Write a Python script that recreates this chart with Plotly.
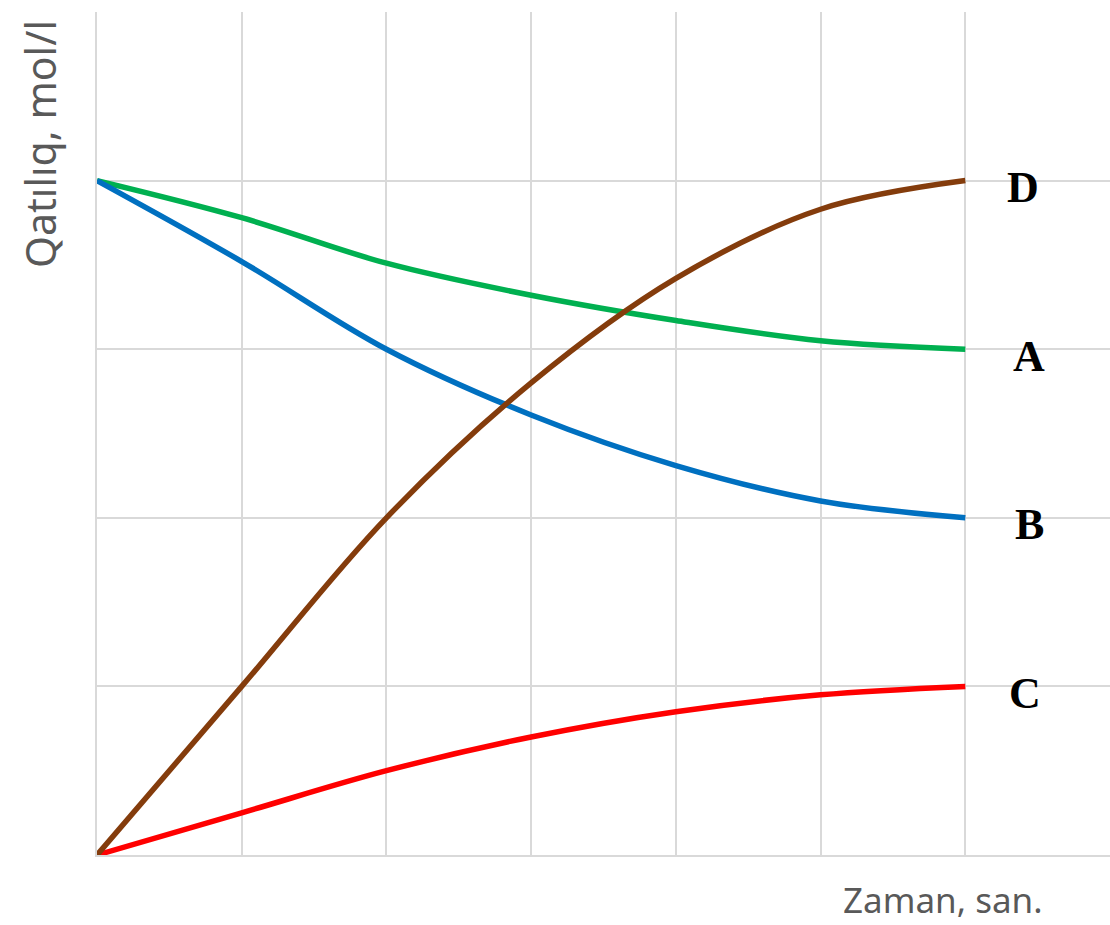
import plotly.graph_objects as go

time = [0, 1, 2, 3, 4, 5, 6]
conc_A = [4.0, 3.78, 3.51, 3.32, 3.17, 3.05, 3.0]
conc_B = [4.0, 3.52, 3.0, 2.61, 2.31, 2.1, 2.0]
conc_C = [0.0, 0.25, 0.5, 0.7, 0.85, 0.95, 1.0]
conc_D = [0.0, 1.0, 2.0, 2.8, 3.42, 3.83, 4.0]
labels = ["D", "A", "B", "C"]

series = [
    ("A", conc_A, "#00b050"),
    ("B", conc_B, "#0070c0"),
    ("C", conc_C, "#ff0000"),
    ("D", conc_D, "#843c0c"),
]

fig = go.Figure()
for name, ys, col in series:
    fig.add_trace(go.Scatter(x=time, y=ys, mode="lines", name=name,
                             line=dict(color=col, width=5.5, shape="spline", smoothing=1.0),
                             cliponaxis=False))

ends = {"A": conc_A[-1], "B": conc_B[-1], "C": conc_C[-1], "D": conc_D[-1]}
shifts = {"D": 40, "A": 46, "B": 48, "C": 42}
for lab in labels:
    fig.add_annotation(x=time[-1], y=ends[lab], xref="x", yref="y", text="<b>%s</b>" % lab,
                       showarrow=False, xanchor="left", xshift=shifts[lab], yshift=-7,
                       font=dict(family="Liberation Serif", size=44, color="#000000"))

fig.add_annotation(x=0, y=0, xref="paper", yref="paper", text="Zaman, san.",
                   showarrow=False, xanchor="left", yanchor="middle", xshift=745, yshift=-44,
                   borderpad=0,
                   font=dict(family="Noto Sans", size=35, color="#595959"))
fig.add_annotation(x=0, y=1.0, xref="paper", yref="paper", text="Qatılıq, mol/l",
                   showarrow=False, textangle=-90, xanchor="center", yanchor="top",
                   xshift=-57, yshift=-6,
                   font=dict(family="Noto Sans", size=41, color="#595959"))

fig.update_layout(
    width=1110, height=925,
    margin=dict(l=97, r=0, t=12, b=70),
    paper_bgcolor="white", plot_bgcolor="white",
    showlegend=False,
    xaxis=dict(range=[0, 7], dtick=1, showticklabels=False, showgrid=True,
               gridcolor="#d9d9d9", gridwidth=2, zeroline=False,
               showline=True, linecolor="#d9d9d9", linewidth=2, ticks=""),
    yaxis=dict(range=[0, 5], dtick=1, showticklabels=False, showgrid=True,
               gridcolor="#d9d9d9", gridwidth=2, zeroline=False,
               showline=True, linecolor="#d9d9d9", linewidth=2, ticks="", mirror=False),
)
fig.write_html("out.html")
